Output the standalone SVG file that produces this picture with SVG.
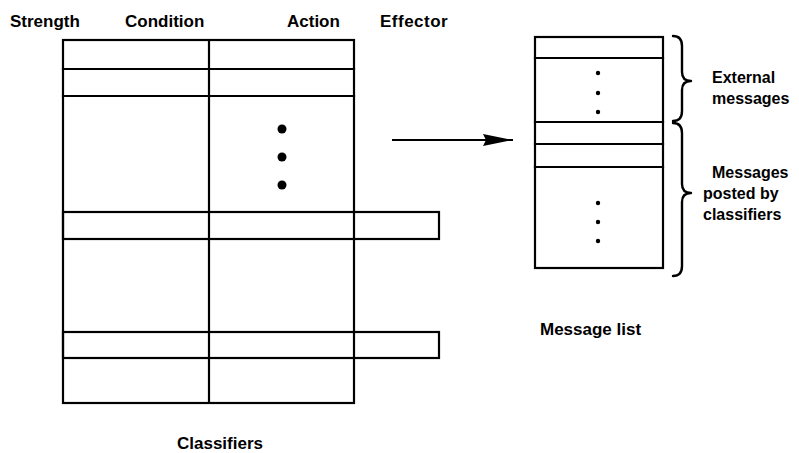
<svg xmlns="http://www.w3.org/2000/svg" width="799" height="453" viewBox="0 0 799 453">
<style>
.ln{fill:none;stroke:#000;stroke-width:2.2;stroke-linecap:square}
.br{fill:none;stroke:#000;stroke-width:2.4;stroke-linecap:round;stroke-linejoin:round}
.t{font-family:"Liberation Sans",Arial,sans-serif;font-weight:bold;font-size:17px;fill:#000}
.s{font-family:"Liberation Sans",Arial,sans-serif;font-weight:bold;font-size:16px;fill:#000}
</style>
<defs>
<marker id="ah" markerWidth="30" markerHeight="12" refX="30" refY="6" orient="auto" markerUnits="userSpaceOnUse">
<path d="M0,0 L30,6 L0,12 L3,6 Z" fill="#000"/>
</marker>
</defs>
<rect width="799" height="453" fill="#fff"/>
<g id="headers">
<text class="t" x="10" y="27">Strength</text>
<text class="t" x="125" y="27">Condition</text>
<text class="t" x="287" y="27">Action</text>
<text class="t" x="380" y="27" letter-spacing="0.5">Effector</text>
</g>
<g id="classifiers">
<rect class="ln" x="63" y="40" width="291" height="363"/>
<line class="ln" x1="209" y1="40" x2="209" y2="403"/>
<line class="ln" x1="63" y1="69" x2="354" y2="69"/>
<line class="ln" x1="63" y1="96" x2="354" y2="96"/>
<rect class="ln" x="63" y="212" width="376" height="27"/>
<rect class="ln" x="63" y="332" width="376" height="26"/>
<circle cx="282" cy="129" r="4.5"/>
<circle cx="282" cy="157" r="4.5"/>
<circle cx="282" cy="185" r="4.5"/>
<text class="t" x="177" y="449">Classifiers</text>
</g>
<g id="messagelist">
<rect class="ln" x="535" y="37" width="128" height="231"/>
<line class="ln" x1="535" y1="58" x2="663" y2="58"/>
<line class="ln" x1="535" y1="122" x2="663" y2="122"/>
<line class="ln" x1="535" y1="144" x2="663" y2="144"/>
<line class="ln" x1="535" y1="167" x2="663" y2="167"/>
<circle cx="598" cy="73" r="2.2"/>
<circle cx="598" cy="93" r="2.2"/>
<circle cx="598" cy="112" r="2.2"/>
<circle cx="598" cy="203" r="2.2"/>
<circle cx="598" cy="222" r="2.2"/>
<circle cx="598" cy="241" r="2.2"/>
<text class="t" x="540" y="335">Message list</text>
</g>
<g id="external">
<path class="br" d="M673,36 Q682,36 682,46 L682,72 Q682,81 691,81 Q682,81 682,90 L682,111 Q682,121 673,121"/>
<text class="s" x="712" y="83">External</text>
<text class="s" x="712" y="104">messages</text>
</g>
<g id="posted">
<path class="br" d="M673,123 Q682,123 682,133 L682,184 Q682,193 691,193 Q682,193 682,202 L682,266 Q682,276 673,276"/>
<text class="s" x="712" y="178">Messages</text>
<text class="s" x="703" y="199">posted by</text>
<text class="s" x="703" y="220">classifiers</text>
</g>
<g id="connectors">
<line x1="392" y1="140" x2="513" y2="140" stroke="#000" stroke-width="2.2" marker-end="url(#ah)"/>
</g>
</svg>
